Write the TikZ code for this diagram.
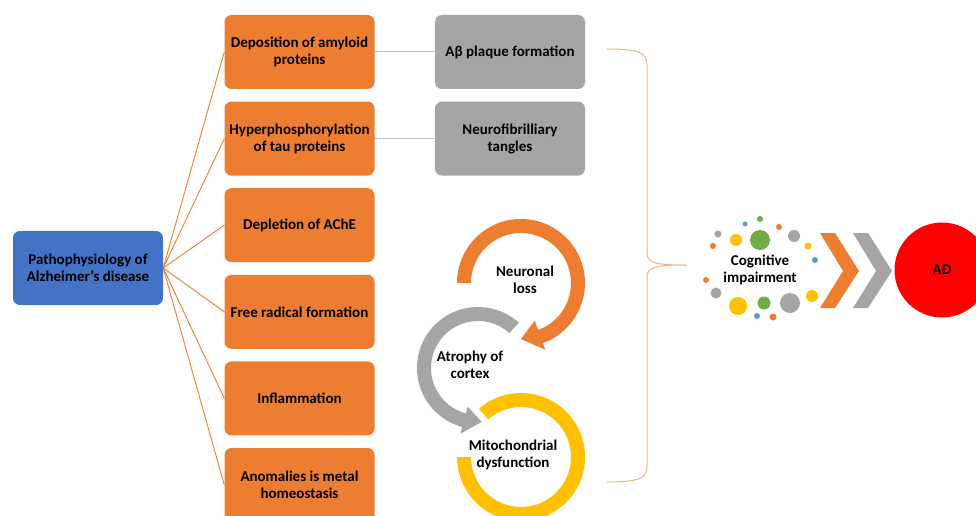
\documentclass[tikz,border=0pt]{standalone}
\usepackage{fontspec}
\setmainfont{Carlito}
\usetikzlibrary{calc}
\definecolor{borange}{HTML}{ED7D31}
\definecolor{bblue}{HTML}{4472C4}
\definecolor{bgrey}{HTML}{A5A5A5}
\definecolor{byellow}{HTML}{FFC000}
\definecolor{bgreen}{HTML}{70AD47}
\definecolor{dblue}{HTML}{5B9BD5}
\definecolor{bred}{HTML}{FF0000}
\definecolor{bracec}{HTML}{F0B48C}
\definecolor{lgrey}{HTML}{BFBFBF}
\tikzset{
  boxbase/.style={rounded corners=7pt, minimum width=150pt, minimum height=74pt,
    align=center, font=\fontsize{15}{17}\selectfont\bfseries, text=black, inner sep=2pt},
  obox/.style={boxbase, fill=borange},
  gbox/.style={boxbase, fill=bgrey},
  bbox/.style={boxbase, fill=bblue},
  oline/.style={draw=borange, line width=0.9pt},
  gline/.style={draw=lgrey, line width=1pt},
  lbl/.style={align=center, font=\fontsize{15}{17}\selectfont\bfseries, text=black, inner sep=0pt},
}
\begin{document}
\begin{tikzpicture}[x=1pt,y=1pt]
\useasboundingbox (0,0) rectangle (976,515);
\clip (0,0) rectangle (976,515);
\fill[white] (0,0) rectangle (976,515);

% main boxes
\node[bbox] (pp) at (88,247) {Pathophysiology of\\Alzheimer’s disease};
\node[obox] (o1) at (299.5,463) {Deposition of amyloid\\proteins};
\node[obox] (o2) at (299.5,376.4) {Hyperphosphorylation\\of tau proteins};
\node[obox] (o3) at (299.5,289.8) {Depletion of AChE};
\node[obox] (o4) at (299.5,203.2) {Free radical formation};
\node[obox] (o5) at (299.5,116.6) {Inflammation};
\node[obox] (o6) at (299.5,30) {Anomalies is metal\\homeostasis};
\node[gbox] (g1) at (510,463) {Aβ plaque formation};
\node[gbox] (g2) at (510,376.4) {Neurofibrilliary\\tangles};

\foreach \k in {1,...,6} \draw[oline] (pp.east) -- (o\k.west);
\draw[gline] (o1.east) -- (g1.west);
\draw[gline] (o2.east) -- (g2.west);

% brace
\coordinate (bt) at (607,466);
\coordinate (bb) at (607,33);
\coordinate (btip) at (687,250);
\draw[bracec, line width=1pt] (bt) .. controls (640,466) and (647,462) .. (647,450)
  -- (647,262) .. controls (647,252) and (655,250) .. (btip)
  .. controls (655,250) and (647,248) .. (647,238)
  -- (647,49) .. controls (647,37) and (640,33) .. (bb);

% cycle rings
\coordinate (Yc) at (521,58);
\coordinate (Gc) at (478,147);
\coordinate (Oc) at (521,232);
\fill[byellow] ($(Yc)+(131:64)$) arc[start angle=131,end angle=-180,radius=64]
  -- ($(Yc)+(180:50)$) arc[start angle=-180,end angle=131,radius=50] -- cycle;
\fill[bgrey] ($(Gc)+(48:61)$) arc[start angle=48,end angle=255,radius=61]
  -- ($(Gc)+(255:68)$) -- ($(Gc)+(274:54)$) -- ($(Gc)+(255:40)$)
  -- ($(Gc)+(255:47)$) arc[start angle=255,end angle=48,radius=47] -- cycle;
\fill[borange] ($(Oc)+(180:64)$) arc[start angle=180,end angle=-70,radius=64]
  -- ($(Oc)+(-70:71)$) -- ($(Oc)+(-90:56)$) -- ($(Oc)+(-70:40)$)
  -- ($(Oc)+(-70:50)$) arc[start angle=-70,end angle=180,radius=50] -- cycle;
\node[lbl] (nl) at (525,235) {Neuronal\\loss};
\node[lbl] (ac) at (470,150) {Atrophy of\\cortex};
\node[lbl] (md) at (513,60) {Mitochondrial\\dysfunction};

% cognitive impairment dots
\foreach \x/\y/\r/\c in {745/291/2.5/dblue, 760/296/3/bgreen, 779/288/3/borange,
  718/281/3.5/bgrey, 736/275/6/byellow, 760/275/10/bgreen, 794/279/6/bgrey,
  713/269/3/borange, 808/269/3.5/byellow, 815/255/3/dblue, 706/235/3/borange,
  716/222/5.5/bgrey, 812/219/6/byellow, 738/209/9/byellow, 764/212/6.5/bgreen,
  790/212/10/bgrey, 757/199/3/dblue, 773/198/3.5/borange}
  \fill[\c] (\x,\y) circle[radius=\r];
\node[lbl] (ci) at (760,245) {Cognitive\\impairment};

% chevrons
\fill[borange] (820,282) -- (835,282) -- (859,244) -- (835,207) -- (820,207) -- (843,244) -- cycle;
\fill[bgrey] (853,282) -- (868,282) -- (892,244) -- (868,207) -- (853,207) -- (876,244) -- cycle;

% AD
\node[circle, fill=bred, minimum size=95pt, inner sep=0pt] (ad) at (942,245) {};
\node[lbl] at (ad.center) {AD};
\end{tikzpicture}
\end{document}
